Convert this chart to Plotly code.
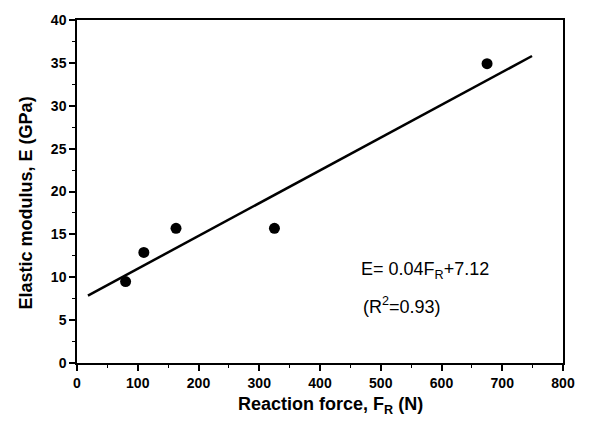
import plotly.graph_objects as go

force = [80, 110, 163, 325, 675]
modulus = [9.5, 12.9, 15.7, 15.7, 34.9]
fit_x = [18, 749]
fit_y = [7.86, 35.8]

FONT = "Liberation Sans, Arial"

fig = go.Figure()
fig.add_trace(go.Scatter(x=fit_x, y=fit_y, mode="lines",
                         line=dict(color="black", width=2.5), showlegend=False))
fig.add_trace(go.Scatter(x=force, y=modulus, mode="markers",
                         marker=dict(color="black", size=11), showlegend=False))

fig.add_annotation(x=0.58, y=0.269, xref="paper", yref="paper", xanchor="left", yanchor="middle",
                   text="E= 0.04F<sub>R</sub>+7.12", showarrow=False,
                   font=dict(family=FONT, size=18, color="black"))
fig.add_annotation(x=0.585, y=0.168, xref="paper", yref="paper", xanchor="left", yanchor="middle",
                   text="(R<sup>2</sup>=0.93)", showarrow=False,
                   font=dict(family=FONT, size=18, color="black"))

# axis titles as annotations (positioned like the reference)
fig.add_annotation(x=0.522, y=-0.123, xref="paper", yref="paper", xanchor="center", yanchor="middle",
                   text="<b>Reaction force, F<sub>R</sub> (N)</b>", showarrow=False,
                   font=dict(family=FONT, size=18, color="black"))
fig.add_annotation(x=-0.103, y=0.468, xref="paper", yref="paper", xanchor="center", yanchor="middle",
                   text="<b>Elastic modulus, E (GPa)</b>", showarrow=False, textangle=-90,
                   font=dict(family=FONT, size=18, color="black"))

axis_common = dict(showgrid=False, zeroline=False, showline=True, linecolor="black", linewidth=1.5,
                   mirror=True, ticks="outside", ticklen=6, tickwidth=1.5, tickcolor="black",
                   tickfont=dict(family=FONT, size=14, color="black", weight="bold"))

fig.update_xaxes(range=[0, 800], dtick=100, tick0=0,
                 minor=dict(ticks="outside", ticklen=3, dtick=50, tickcolor="black", tickwidth=1),
                 **axis_common)
fig.update_yaxes(range=[0, 40], dtick=5, tick0=0,
                 minor=dict(ticks="outside", ticklen=3, dtick=2.5, tickcolor="black", tickwidth=1),
                 **axis_common)

fig.update_layout(width=590, height=421, margin=dict(l=77, r=27, t=17, b=58),
                  plot_bgcolor="white", paper_bgcolor="white")
fig.write_html("out.html")
